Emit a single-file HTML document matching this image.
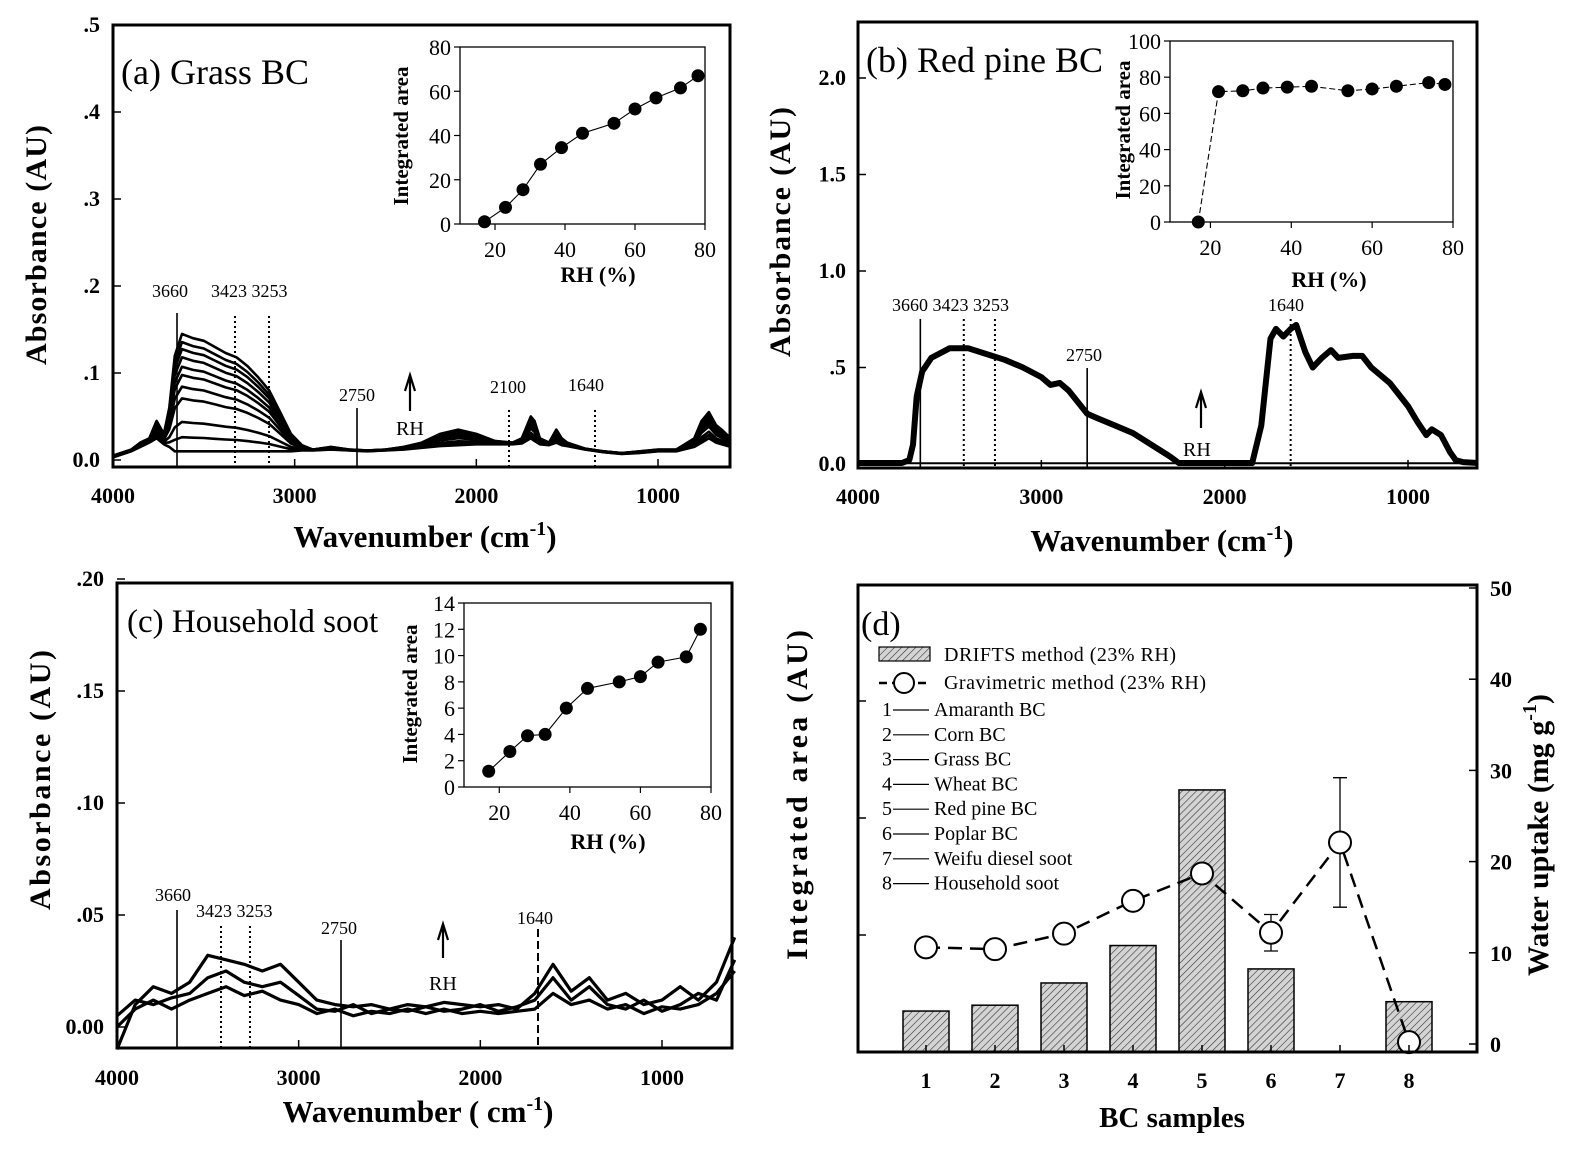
<!DOCTYPE html>
<html><head><meta charset="utf-8">
<style>
html,body{margin:0;padding:0;background:#fff;}
svg{display:block;font-family:"Liberation Serif",serif;}
.tk{font-weight:bold;font-size:22px;}
.it{font-size:22px;}
.ax{font-weight:bold;}
</style></head>
<body>
<svg id="fig" width="1586" height="1162" viewBox="0 0 1586 1162" xmlns="http://www.w3.org/2000/svg">
<defs>
<pattern id="hatch" width="5" height="5" patternUnits="userSpaceOnUse" patternTransform="rotate(45)">
<rect width="5" height="5" fill="#d4d4d4"/><line x1="0" y1="0" x2="0" y2="5" stroke="#333" stroke-width="1.2"/>
</pattern>
</defs>
<g id="pa"></g>
<g id="pb"></g>
<g id="pc"></g>
<g id="pd"></g>

<!-- static text panel a -->
<text x="121" y="84" font-size="36">(a) Grass BC</text>
<text transform="translate(46,245) rotate(-90)" text-anchor="middle" font-size="30" class="ax" textLength="240">Absorbance (AU)</text>
<text x="425" y="547" text-anchor="middle" font-size="31" class="ax">Wavenumber (cm<tspan dy="-12" font-size="20">-1</tspan><tspan dy="12">)</tspan></text>
<text transform="translate(408,136) rotate(-90)" text-anchor="middle" font-size="21" class="ax">Integrated area</text>
<text x="598" y="282" text-anchor="middle" font-size="22" class="ax">RH (%)</text>
<text x="152" y="297" font-size="18">3660</text>
<text x="211" y="297" font-size="18">3423 3253</text>
<text x="339" y="401" font-size="18">2750</text>
<text x="490" y="393" font-size="18">2100</text>
<text x="568" y="391" font-size="18">1640</text>
<text x="396" y="435" font-size="20">RH</text>

<!-- panel b -->
<text x="866" y="72" font-size="36">(b) Red pine BC</text>
<text transform="translate(790,232) rotate(-90)" text-anchor="middle" font-size="30" class="ax" textLength="250">Absorbance (AU)</text>
<text x="1162" y="551" text-anchor="middle" font-size="31" class="ax">Wavenumber (cm<tspan dy="-12" font-size="20">-1</tspan><tspan dy="12">)</tspan></text>
<text transform="translate(1130,130) rotate(-90)" text-anchor="middle" font-size="21" class="ax">Integrated area</text>
<text x="1329" y="287" text-anchor="middle" font-size="22" class="ax">RH (%)</text>
<text x="892" y="311" font-size="18">3660 3423 3253</text>
<text x="1066" y="361" font-size="18">2750</text>
<text x="1268" y="311" font-size="18">1640</text>
<text x="1183" y="456" font-size="20">RH</text>

<!-- panel c -->
<text x="127" y="632" font-size="33">(c) Household soot</text>
<text transform="translate(50,780) rotate(-90)" text-anchor="middle" font-size="30" class="ax" textLength="260">Absorbance (AU)</text>
<text x="418" y="1122" text-anchor="middle" font-size="31" class="ax">Wavenumber ( cm<tspan dy="-12" font-size="20">-1</tspan><tspan dy="12">)</tspan></text>
<text transform="translate(417,694) rotate(-90)" text-anchor="middle" font-size="21" class="ax">Integrated area</text>
<text x="608" y="849" text-anchor="middle" font-size="22" class="ax">RH (%)</text>
<text x="155" y="901" font-size="18">3660</text>
<text x="196" y="917" font-size="18">3423 3253</text>
<text x="321" y="934" font-size="18">2750</text>
<text x="517" y="924" font-size="18">1640</text>
<text x="429" y="990" font-size="20">RH</text>

<!-- panel d -->
<text x="861" y="635" font-size="34">(d)</text>
<text transform="translate(807,795) rotate(-90)" text-anchor="middle" font-size="30" class="ax" textLength="330">Integrated area (AU)</text>
<text transform="translate(1548,835) rotate(-90)" text-anchor="middle" font-size="30" class="ax">Water uptake (mg g<tspan dy="-12" font-size="20">-1</tspan><tspan dy="12">)</tspan></text>
<text x="1172" y="1127" text-anchor="middle" font-size="29" class="ax">BC samples</text>
<g>
<rect x="879" y="647" width="51" height="14" fill="url(#hatch)" stroke="#000" stroke-width="1.2"/>
<text x="944" y="661" font-size="20" textLength="232">DRIFTS method (23% RH)</text>
<line x1="879" y1="683" x2="928" y2="683" stroke="#000" stroke-width="2.5" stroke-dasharray="8 5"/>
<circle cx="904" cy="683" r="10" fill="#fff" stroke="#000" stroke-width="2"/>
<text x="944" y="689" font-size="20" textLength="262">Gravimetric method (23% RH)</text>
</g>
<g id="sampleList" font-size="20"></g>
</svg>
<script>
// ---------- DATA ----------
const wnA = [4000,3900,3850,3800,3760,3720,3690,3660,3620,3560,3500,3440,3380,3320,3260,3200,3140,3080,3020,2960,2900,2800,2700,2600,2500,2400,2300,2200,2100,2000,1900,1800,1750,1700,1680,1650,1600,1560,1530,1500,1400,1300,1200,1100,1000,900,800,760,720,680,650,600];
const hiA = [0.005,0.012,0.02,0.025,0.045,0.03,0.06,0.12,0.145,0.14,0.137,0.13,0.123,0.118,0.108,0.095,0.08,0.055,0.03,0.017,0.012,0.015,0.012,0.011,0.012,0.015,0.02,0.03,0.035,0.03,0.022,0.02,0.025,0.05,0.045,0.025,0.02,0.035,0.025,0.02,0.013,0.01,0.008,0.01,0.012,0.012,0.025,0.045,0.055,0.04,0.035,0.025];
const loA = [0.003,0.01,0.015,0.02,0.025,0.018,0.015,0.01,0.01,0.01,0.01,0.01,0.01,0.01,0.01,0.01,0.01,0.01,0.01,0.011,0.011,0.012,0.011,0.01,0.011,0.012,0.014,0.016,0.017,0.018,0.018,0.018,0.019,0.025,0.022,0.018,0.017,0.02,0.017,0.016,0.012,0.009,0.007,0.008,0.01,0.01,0.015,0.02,0.025,0.02,0.018,0.015];
const curveWeightsA = [0,0.12,0.25,0.45,0.55,0.65,0.72,0.8,0.87,0.93,1];
const insetRH_A = [17,23,28,33,39,45,54,60,66,73,78];
const insetArea_A = [1,7.5,15.5,27,34.5,41,45.5,52,57,61.5,67];
const wnB = [4000,3760,3720,3700,3680,3650,3600,3500,3400,3300,3200,3100,3000,2950,2900,2850,2800,2750,2700,2600,2500,2400,2300,2250,1850,1800,1750,1720,1680,1640,1610,1560,1520,1470,1420,1380,1300,1250,1200,1100,1000,950,900,870,820,770,740,700,620];
const absB = [0.005,0.005,0.02,0.1,0.35,0.48,0.55,0.6,0.6,0.57,0.54,0.5,0.45,0.41,0.42,0.38,0.32,0.26,0.24,0.2,0.16,0.1,0.04,0.005,0.005,0.2,0.65,0.7,0.66,0.7,0.72,0.58,0.5,0.55,0.59,0.55,0.56,0.56,0.5,0.42,0.3,0.22,0.15,0.18,0.15,0.06,0.02,0.01,0.005];
const baseB = 0.004;
const insetRH_B = [17,22,28,33,39,45,54,60,66,74,78];
const insetArea_B = [0,72,72.5,74,74.5,75,72.5,73.5,75,77,76];
const wnC = [4000,3900,3800,3700,3600,3500,3400,3300,3200,3100,3000,2900,2800,2700,2600,2500,2400,2300,2200,2100,2000,1900,1800,1700,1600,1500,1400,1300,1200,1100,1000,900,800,700,600];
const c1 = [-0.01,0.01,0.018,0.015,0.02,0.032,0.03,0.028,0.025,0.028,0.02,0.012,0.01,0.009,0.01,0.008,0.01,0.009,0.011,0.01,0.009,0.01,0.008,0.015,0.028,0.016,0.022,0.012,0.015,0.01,0.012,0.018,0.012,0.02,0.04];
const c2 = [0.005,0.012,0.01,0.013,0.015,0.022,0.025,0.02,0.018,0.02,0.014,0.008,0.007,0.01,0.006,0.008,0.007,0.009,0.007,0.008,0.01,0.007,0.009,0.012,0.022,0.012,0.018,0.01,0.008,0.012,0.007,0.01,0.015,0.012,0.03];
const c3 = [0.0,0.008,0.012,0.008,0.012,0.015,0.018,0.014,0.016,0.012,0.01,0.006,0.008,0.005,0.007,0.006,0.008,0.006,0.008,0.006,0.007,0.006,0.007,0.008,0.015,0.01,0.012,0.008,0.01,0.006,0.009,0.008,0.01,0.015,0.025];
const insetRH_C = [17,23,28,33,39,45,54,60,65,73,77];
const insetArea_C = [1.2,2.7,3.9,4.0,6.0,7.5,8.0,8.4,9.5,9.9,12];
const samples = ["1","2","3","4","5","6","7","8"];
const sampleNames = ["Amaranth BC","Corn BC","Grass BC","Wheat BC","Red pine BC","Poplar BC","Weifu diesel soot","Household soot"];
const driftsArea = [0.35,0.40,0.59,0.91,2.24,0.71,0,0.43];
const gravUptake = [10.6,10.4,12.1,15.7,18.7,12.2,22.1,0.2];
const gravErr = [0,0,0,0,0,2.0,7.1,0];
const rightTicks = [0,10,20,30,40,50];

// ---------- HELPERS ----------
const NS = "http://www.w3.org/2000/svg";
function mk(parent, tag, attrs){const e=document.createElementNS(NS,tag);for(const k in attrs)e.setAttribute(k,attrs[k]);parent.appendChild(e);return e;}
function lin(d0,d1,r0,r1){return v=>r0+(v-d0)*(r1-r0)/(d1-d0);}
function pathOf(xs,ys,sx,sy){return xs.map((x,i)=>(i?"L":"M")+sx(x).toFixed(1)+","+sy(ys[i]).toFixed(1)).join("");}

function frame(g,x0,y0,x1,y1,w,name){
  const r=mk(g,"rect",{x:x0,y:y0,width:x1-x0,height:y1-y0,fill:"none",stroke:"#000","stroke-width":w});
  
  
}
function xTicks(g,vals,sx,yb,labelY,cls,len,prefix){
  vals.forEach(v=>{
    const l=mk(g,"line",{x1:sx(v),x2:sx(v),y1:yb,y2:yb-len,stroke:"#000","stroke-width":1.5});
    
    
    const t=mk(g,"text",{x:sx(v),y:labelY,"text-anchor":"middle","class":cls});
    t.textContent=v;
    
    
  });
}
function yTicks(g,vals,labels,sy,xl,labelX,cls,len,prefix,anchor){
  vals.forEach((v,i)=>{
    const l=mk(g,"line",{x1:xl,x2:xl+len,y1:sy(v),y2:sy(v),stroke:"#000","stroke-width":1.5});
    
    
    if(labels[i]!==""){
      const t=mk(g,"text",{x:labelX,y:sy(v)+7,"text-anchor":anchor||"end","class":cls});
      t.textContent=labels[i];
      
      
    }
  });
}
function vline(g,x,y0,y1,dash,name){
  const l=mk(g,"line",{x1:x,x2:x,y1:y0,y2:y1,stroke:"#000","stroke-width":dash?2:1.6});
  if(dash)l.setAttribute("stroke-dasharray",dash);
  
  
}
function arrow(g,x,y0,y1,name){
  const p=mk(g,"path",{d:`M${x},${y1}L${x},${y0}M${x-5},${y0+16}L${x},${y0}L${x+5},${y0+16}`,stroke:"#000","stroke-width":2.2,fill:"none"});
  
  
}
function inset(g,x0,y0,x1,y1,xd,yd,xt,yt,rh,area,dashed,prefix){
  frame(g,x0,y0,x1,y1,1.3,prefix+'-frame');
  const sx=lin(xd[0],xd[1],x0,x1), sy=lin(yd[0],yd[1],y1,y0);
  xt.forEach(v=>{
    const l=mk(g,"line",{x1:sx(v),x2:sx(v),y1:y1,y2:y1+6,stroke:"#000","stroke-width":1.2});
    
    
    const t=mk(g,"text",{x:sx(v),y:y1+33,"text-anchor":"middle","class":"it"});
    t.textContent=v;
    
    
  });
  yt.forEach(v=>{
    const l=mk(g,"line",{x1:x0-6,x2:x0,y1:sy(v),y2:sy(v),stroke:"#000","stroke-width":1.2});
    
    
    const t=mk(g,"text",{x:x0-9,y:sy(v)+8,"text-anchor":"end","class":"it"});
    t.textContent=v;
    
    
  });
  const p=mk(g,"path",{d:pathOf(rh,area,sx,sy),fill:"none",stroke:"#000","stroke-width":1.1});
  if(dashed)p.setAttribute("stroke-dasharray","6 3");
  
  
  rh.forEach((v,i)=>{
    const c=mk(g,"circle",{cx:sx(v),cy:sy(area[i]),r:6.5,fill:"#000"});
    
    
  });
}

// ---------- PANEL A ----------
(function(){
  const g=document.getElementById("pa");
  const X0=113,X1=730,Y0=25,Y1=467;
  const sx=lin(4000,1000,X0,658), sy=lin(0,0.5,460,25);
  curveWeightsA.forEach((w,ci)=>{
    const ys=loA.map((lo,i)=>lo+w*(hiA[i]-lo));
    const p=mk(g,"path",{d:pathOf(wnA,ys,sx,sy),fill:"none",stroke:"#000","stroke-width":2.6,"stroke-linejoin":"round"});
    
    
  });
  frame(g,X0,Y0,X1,Y1,3,'panel-a-frame');
  xTicks(g,[4000,3000,2000,1000],sx,Y1,503,"tk",8,'panel-a');
  yTicks(g,[0,0.1,0.2,0.3,0.4,0.5],["0.0",".1",".2",".3",".4",".5"],sy,X0,100,"tk",8,'panel-a');
  vline(g,177,313,Y1,null,'marker-3660-a');
  vline(g,235,316,Y1,"2 3",'marker-3423-a');
  vline(g,269,316,Y1,"2 3",'marker-3253-a');
  vline(g,357,408,Y1,null,'marker-2750-a');
  vline(g,509,410,Y1,"2 3",'marker-2100-a');
  vline(g,595,410,Y1,"2 3",'marker-1640-a');
  arrow(g,410,375,411,'rh-arrow-a');
  inset(g,460,47,705,224,[10,80],[0,80],[20,40,60,80],[0,20,40,60,80],insetRH_A,insetArea_A,false,'inset-a');
})();

// ---------- PANEL B ----------
(function(){
  const g=document.getElementById("pb");
  const X0=858,X1=1477,Y0=22,Y1=468;
  const sx=lin(4000,1000,X0,1408), sy=lin(0,2,464,78);
  const base=mk(g,"path",{d:pathOf([4000,620],[baseB,baseB],sx,sy),stroke:"#000","stroke-width":2,fill:"none"});
  
  
  const p=mk(g,"path",{d:pathOf(wnB,absB,sx,sy),fill:"none",stroke:"#000","stroke-width":6,"stroke-linejoin":"round"});
  
  
  frame(g,X0,Y0,X1,Y1,3,'panel-b-frame');
  xTicks(g,[4000,3000,2000,1000],sx,Y1,504,"tk",8,'panel-b');
  yTicks(g,[0,0.5,1,1.5,2],["0.0",".5","1.0","1.5","2.0"],sy,X0,846,"tk",8,'panel-b');
  vline(g,sx(3660),319,Y1,null,'marker-3660-b');
  vline(g,sx(3423),319,Y1,"2 3",'marker-3423-b');
  vline(g,sx(3253),319,Y1,"2 3",'marker-3253-b');
  vline(g,sx(2750),368,Y1,null,'marker-2750-b');
  vline(g,sx(1640),319,Y1,"2 3",'marker-1640-b');
  arrow(g,1201,392,428,'rh-arrow-b');
  inset(g,1170,41,1453,222,[10,80],[0,100],[20,40,60,80],[0,20,40,60,80,100],insetRH_B,insetArea_B,true,'inset-b');
})();

// ---------- PANEL C ----------
(function(){
  const g=document.getElementById("pc");
  const X0=117,X1=732,Y0=583,Y1=1048;
  const sx=lin(4000,1000,X0,662), sy=lin(0,0.05,1027,915);
  [c1,c2,c3].forEach(arr=>{
    const p=mk(g,"path",{d:pathOf(wnC,arr,sx,sy),fill:"none",stroke:"#000","stroke-width":3.2,"stroke-linejoin":"round"});
    
    
  });
  frame(g,X0,Y0,X1,Y1,3,'panel-c-frame');
  xTicks(g,[4000,3000,2000,1000],sx,Y1,1085,"tk",8,'panel-c');
  yTicks(g,[0,0.05,0.1,0.15,0.2],["0.00",".05",".10",".15",".20"],sy,X0,104,"tk",8,'panel-c');
  vline(g,177,910,Y1,null,'marker-3660-c');
  vline(g,221,926,Y1,"2 3",'marker-3423-c');
  vline(g,250,926,Y1,"2 3",'marker-3253-c');
  vline(g,341,940,Y1,null,'marker-2750-c');
  vline(g,538,929,Y1,"8 4",'marker-1640-c');
  arrow(g,443,924,958,'rh-arrow-c');
  inset(g,464,603,711,787,[10,80],[0,14],[20,40,60,80],[0,2,4,6,8,10,12,14],insetRH_C,insetArea_C,false,'inset-c');
})();

// ---------- PANEL D ----------
(function(){
  const g=document.getElementById("pd");
  const X0=858,X1=1477,Y0=585,Y1=1052;
  const sx=i=>926+69*i;
  const syL=lin(0,4,Y1,Y1-468), syR=lin(0,50,1044,588);
  driftsArea.forEach((v,i)=>{
    if(v<=0)return;
    const r=mk(g,"rect",{x:sx(i)-23,y:syL(v),width:46,height:Y1-syL(v),fill:"url(#hatch)",stroke:"#000","stroke-width":1.5});
    
    
  });
  const p=mk(g,"path",{d:gravUptake.map((v,i)=>(i?"L":"M")+sx(i)+","+syR(v)).join(""),fill:"none",stroke:"#000","stroke-width":2.5,"stroke-dasharray":"14 8"});
  
  
  gravErr.forEach((e,i)=>{
    if(!e)return;
    const eb=mk(g,"path",{d:`M${sx(i)},${syR(gravUptake[i]+e)}L${sx(i)},${syR(gravUptake[i]-e)}M${sx(i)-7},${syR(gravUptake[i]+e)}h14M${sx(i)-7},${syR(gravUptake[i]-e)}h14`,stroke:"#000","stroke-width":1.3,fill:"none"});
    
    
  });
  gravUptake.forEach((v,i)=>{
    const c=mk(g,"circle",{cx:sx(i),cy:syR(v),r:11,fill:"#fff",stroke:"#000","stroke-width":2});
    
    
  });
  frame(g,X0,Y0,X1,Y1,3,'panel-d-frame');
  samples.forEach((s,i)=>{
    const l=mk(g,"line",{x1:sx(i),x2:sx(i),y1:Y1,y2:Y1-7,stroke:"#000","stroke-width":1.5});
    
    
    const t=mk(g,"text",{x:sx(i),y:1088,"text-anchor":"middle","class":"tk"});
    t.textContent=s;
    
    
  });
  yTicks(g,[1,2,3],["","",""],syL,X0,0,"tk",8,'panel-d-left');
  rightTicks.forEach(v=>{
    const l=mk(g,"line",{x1:X1,x2:X1-8,y1:syR(v),y2:syR(v),stroke:"#000","stroke-width":1.5});
    
    
    const t=mk(g,"text",{x:1490,y:syR(v)+8,"class":"tk"});
    t.textContent=v;
    
    
  });
  const L=document.getElementById("sampleList");
  sampleNames.forEach((n,i)=>{
    const y=716+24.8*i;
    const t=mk(L,"text",{x:882,y:y});
    t.textContent=samples[i];
    
    
    const l=mk(L,"line",{x1:893,x2:929,y1:y-6,y2:y-6,stroke:"#000","stroke-width":1.2});
    
    
    const t2=mk(L,"text",{x:934,y:y});
    t2.textContent=n;
    
    
  });
})();
</script>
</body></html>
